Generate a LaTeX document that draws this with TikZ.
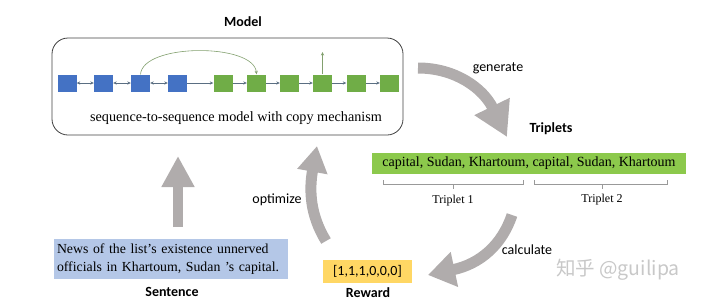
\documentclass[tikz,border=0pt]{standalone}
\usepackage{fontspec}
\setmainfont{Liberation Serif}
\setsansfont{Carlito}
\newfontfamily\cjk{Noto Sans CJK SC}
\usetikzlibrary{arrows.meta}
\definecolor{sqblue}{RGB}{68,114,196}
\definecolor{sqgreen}{RGB}{112,173,71}
\definecolor{barGreen}{RGB}{140,201,76}
\definecolor{sentBlue}{RGB}{180,199,231}
\definecolor{rewYellow}{RGB}{255,215,100}
\definecolor{arrGray}{RGB}{176,172,172}
\definecolor{linkC}{RGB}{90,110,130}
\definecolor{arcC}{RGB}{130,160,110}
\definecolor{wmGray}{RGB}{200,200,200}
\begin{document}
\begin{tikzpicture}[x=1pt,y=-1pt,
  sq/.style={minimum width=19pt,minimum height=17pt,inner sep=0pt},
  bsq/.style={sq,fill=sqblue},
  gsq/.style={sq,fill=sqgreen},
  lnk/.style={draw=linkC,line width=0.6pt,-{Stealth[length=3.5pt,width=3.2pt]}},
  blnk/.style={draw=linkC,line width=0.6pt,{Stealth[length=3.5pt,width=3.2pt]}-{Stealth[length=3.5pt,width=3.2pt]}},
  bold/.style={font=\sffamily\bfseries\fontsize{14}{16}\selectfont},
  lbl/.style={font=\sffamily\fontsize{14}{16}\selectfont},
  serif/.style={font=\rmfamily\fontsize{14.2}{18}\selectfont},
  bigarr/.style={draw=arrGray,line width=11pt},
  brk/.style={draw=gray!80,line width=0.6pt}
]
\useasboundingbox (0,0) rectangle (702,303);

% model box
\node[draw=black!75,line width=0.8pt,rounded corners=16pt,minimum width=351pt,minimum height=97pt,inner sep=0pt] (model) at (227.5,86.5) {};
\node[bold] (modellbl) at (243,22) {Model};

% squares
\node[bsq] (b1) at (67,83) {};
\node[bsq] (b2) at (103.5,83) {};
\node[bsq] (b3) at (140.5,83) {};
\node[bsq] (b4) at (177.5,83) {};
\node[gsq] (g1) at (223,83) {};
\node[gsq] (g2) at (256.5,83) {};
\node[gsq] (g3) at (289.5,83) {};
\node[gsq] (g4) at (322.5,83) {};
\node[gsq] (g5) at (356,83) {};
\node[gsq] (g6) at (389.5,83) {};

\draw[blnk] (b1) -- (b2);
\draw[blnk] (b2) -- (b3);
\draw[blnk] (b3) -- (b4);
\draw[lnk] (b4) -- (g1);
\draw[lnk] (g1) -- (g2);
\draw[lnk] (g2) -- (g3);
\draw[lnk] (g3) -- (g4);
\draw[lnk] (g4) -- (g5);
\draw[lnk] (g5) -- (g6);
\draw[draw=arcC,line width=0.6pt,-{Stealth[length=3.5pt,width=3.2pt]}] (b3.north) .. controls (143,43) and (254,43) .. (g2.north);
\coordinate (outtop) at (322.5,52);
\draw[draw=arcC,line width=0.7pt,-{Stealth[length=3.5pt,width=3.2pt]}] (g4.north) -- (outtop);

\node[serif] (seqtxt) at (236,118) {sequence-to-sequence model with copy mechanism};

% triplets
\node[bold] (tripletslbl) at (551,129) {Triplets};
\node[fill=barGreen,minimum width=314pt,minimum height=21pt,inner sep=0pt,font=\rmfamily\fontsize{14}{18}\selectfont] (trip) at (529,163.5) {capital, Sudan, Khartoum, capital, Sudan, Khartoum};
\draw[brk] (383,180) -- (383,184) -- (523,184) -- (523,180);
\draw[brk] (453,184) -- (453,189);
\draw[brk] (534,180) -- (534,184) -- (667,184) -- (667,180);
\draw[brk] (602,184) -- (602,189);
\node[font=\rmfamily\fontsize{12}{14}\selectfont] (t1) at (453,201) {Triplet 1};
\node[font=\rmfamily\fontsize{12}{14}\selectfont] (t2) at (602,200) {Triplet 2};

% sentence
\node[fill=sentBlue,minimum width=234pt,minimum height=40pt,text width=228pt,inner xsep=3pt,inner ysep=4pt,align=left,font=\rmfamily\fontsize{13.8}{18}\selectfont] (sent) at (171,259) {News of the list’s existence unnerved\\officials in Khartoum, Sudan ’s capital.};
\node[bold] (sentlbl) at (172,292) {Sentence};

% reward
\node[fill=rewYellow,minimum width=89pt,minimum height=23pt,inner sep=0pt,lbl] (rew) at (367.5,271.5) {[1,1,1,0,0,0]};
\node[bold] (rewlbl) at (368,293) {Reward};

% labels of big arrows
\node[lbl] (genlbl) at (498,68) {generate};
\node[lbl] (optlbl) at (277,200) {optimize};
\node[lbl] (callbl) at (527,250) {calculate};

% big arrows
\coordinate (genS) at (418,68);
\coordinate (genE) at (507,137);
\draw[bigarr,-{Triangle[width=37pt,length=34pt]}] (genS) .. controls (455,68) and (483,88) .. (genE);
\coordinate (calS) at (512,215);
\coordinate (calE) at (428,275);
\draw[bigarr,-{Triangle[width=34pt,length=27pt]}] (calS) .. controls (502,245) and (480,264) .. (calE);
\coordinate (optS) at (326,241);
\coordinate (optE) at (317,146);
\draw[bigarr,-{Triangle[width=29pt,length=26pt]}] (optS) .. controls (310,215) and (309,190) .. (optE);
\coordinate (upS) at (178,227);
\coordinate (upE) at (178,156);
\draw[bigarr,line width=10pt,-{Triangle[width=31pt,length=31pt]}] (upS) -- (upE);

% watermark
\node[text=wmGray,font=\cjk\fontsize{19.5}{20}\selectfont] (wm) at (618,270) {知乎 @guilipa};
\end{tikzpicture}
\end{document}
